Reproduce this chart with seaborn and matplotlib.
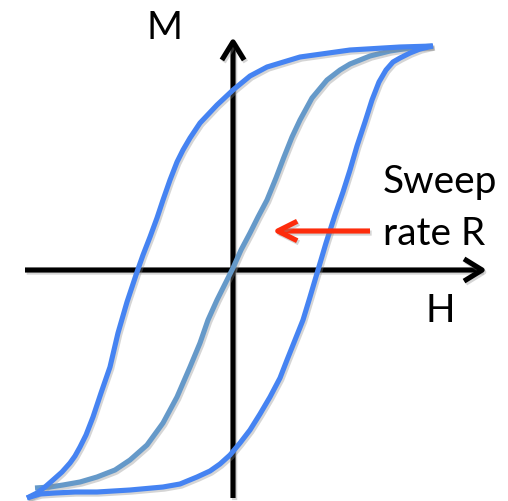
import matplotlib
matplotlib.use("Agg")
import matplotlib.pyplot as plt
import matplotlib.patheffects as pe
from matplotlib.patches import FancyArrowPatch
import seaborn as sns

# Hysteresis loop M(H), arbitrary units (origin at the axes crossing)
upper_H = [200, 167, 117, 67, 34, 17, 0, -16, -33, -43, -50, -56, -63, -70, -76, -83, -90,
           -96, -101, -106, -115, -123, -132, -140, -147, -153, -158, -163, -171, -180,
           -188, -196, -206]
upper_M = [224, 223, 220, 213, 203, 194, 180, 165, 147, 132, 120, 108, 90, 70, 52, 33, 15,
           -2, -17, -32, -63, -97, -123, -147, -165, -177, -186, -193, -202, -210,
           -217, -223, -228]

lower_H = [-206, -193, -178, -158, -136, -103, -70, -53, -36, -23, -13, -3, 7, 17, 27, 37,
           47, 54, 62, 70, 77, 85, 93, 102, 110, 117, 124, 132, 139, 146, 153, 160, 167,
           177, 187, 200]
lower_M = [-228, -224, -223, -222, -222, -220, -217, -214, -207, -201, -194, -185, -173,
           -160, -144, -127, -108, -90, -70, -50, -27, 0, 27, 55, 78, 100, 124, 148, 170,
           188, 200, 208, 212, 217, 221, 224]

# Initial (virgin) magnetisation curve
virgin_H = [-198, -183, -170, -153, -136, -118, -103, -86, -70, -56, -43, -33, -25, -16, -8,
            0, 8, 17, 25, 34, 43, 51, 59, 67, 79, 94, 107, 117, 137, 157, 177, 199]
virgin_M = [-218, -217, -215, -212, -207, -200, -190, -175, -153, -127, -97, -73, -50, -30,
            -14, 2, 20, 37, 53, 70, 92, 113, 133, 150, 172, 190, 200, 206, 214, 219, 222, 224]

sns.set_theme(style="white")
plt.rcParams["font.family"] = ["Lato", "DejaVu Sans"]

fig = plt.figure(figsize=(5.08, 5.01), dpi=100)
ax = fig.add_axes([0, 0, 1, 1])
ax.set_xlim(-233, 275)
ax.set_ylim(-231, 270)
ax.set_axis_off()

shadow = [pe.SimpleLineShadow(offset=(1.2, -1.5), shadow_color="#888888", alpha=0.35), pe.Normal()]

outer_color = "#4583f2"
virgin_color = "#6599c9"
lw = 3.7

# axes with open arrowheads
for (x0, y0), (x1, y1) in [((-208, 0), (254, 0)), ((0, -228), (0, 233))]:
    arr = FancyArrowPatch((x0, y0), (x1, y1), arrowstyle="->,head_length=13,head_width=8",
                          mutation_scale=1, lw=3.7, color="black", capstyle="butt",
                          joinstyle="round", shrinkA=0, shrinkB=0, zorder=2)
    arr.set_path_effects(shadow)
    ax.add_patch(arr)

for h, m, c in [(virgin_H, virgin_M, virgin_color), (upper_H, upper_M, outer_color),
                (lower_H, lower_M, outer_color)]:
    sns.lineplot(x=h, y=m, sort=False, estimator=None, color=c, lw=lw, ax=ax, zorder=3)

for line in ax.lines:
    line.set_solid_capstyle("butt")
    line.set_solid_joinstyle("round")
    line.set_path_effects(shadow)

# sweep-rate arrow
red = FancyArrowPatch((137, 39), (39, 39), arrowstyle="->,head_length=14,head_width=7",
                      mutation_scale=1, lw=3.7, color="#fd2c0c", capstyle="butt",
                      joinstyle="round", shrinkA=0, shrinkB=0, zorder=4)
red.set_path_effects(shadow)
ax.add_patch(red)

ax.text(-68, 242, "M", ha="center", va="center", fontsize=28, color="black")
ax.text(207, -41, "H", ha="center", va="center", fontsize=28, color="black")
ax.text(150, 77, "Sweep", ha="left", va="baseline", fontsize=28, color="black")
ax.text(150, 25, "rate R", ha="left", va="baseline", fontsize=28, color="black")

fig.savefig("out.png", dpi=100)
